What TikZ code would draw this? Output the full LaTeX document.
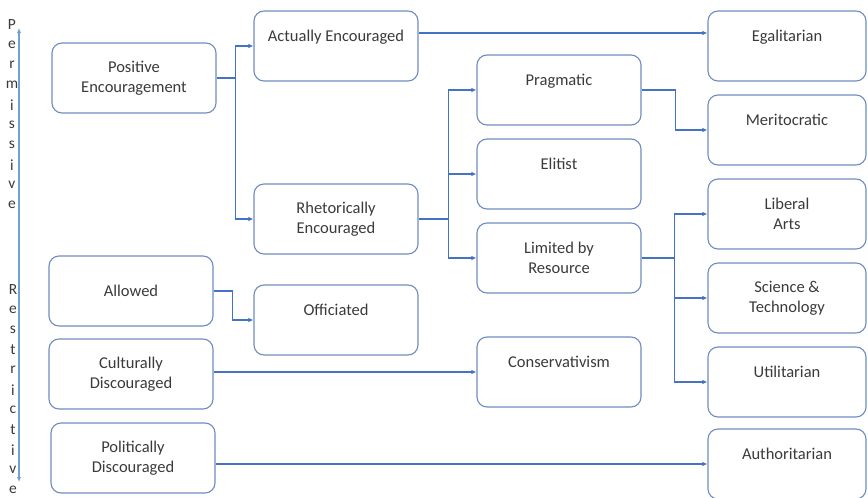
\documentclass[tikz,border=0pt]{standalone}
\usepackage{fontspec}
\setmainfont{Carlito}
\usetikzlibrary{arrows.meta}
\definecolor{boxline}{HTML}{6F8CBF}
\definecolor{linkblue}{HTML}{4472C4}
\definecolor{axisblue}{HTML}{6FA3D8}
\definecolor{txt}{HTML}{3A3A3A}

\begin{document}
\begin{tikzpicture}[x=1pt,y=-1pt,
  box/.style={draw=boxline,line width=1.1pt,rounded corners=10pt,align=center,
    minimum width=164pt,minimum height=70pt,text=txt,
    font=\fontsize{16.5}{20}\selectfont},
  rbox/.style={box,minimum width=158pt},
  link/.style={draw=linkblue,line width=1.4pt,-{Latex[length=5pt,width=4.5pt]}},
  letter/.style={text=txt,font=\fontsize{15.5}{18}\selectfont,inner sep=0pt}]

\useasboundingbox (0,0) rectangle (868,498);

% axis
\coordinate (top) at (19,28);
\coordinate (bot) at (19,482);
\draw[axisblue,line width=1.5pt,{Latex[length=5pt,width=4.5pt]}-{Latex[length=5pt,width=4.5pt]}] (top) -- (bot);
\foreach \ch [count=\i] in {P,e,r,m,i,s,s,i,v,e}
  \node[letter] (p\i) at (12,25+20*\i-20) {\ch};
\foreach \ch [count=\i] in {R,e,s,t,r,i,c,t,i,v,e}
  \node[letter] (r\i) at (13,290+20*\i-20) {\ch};

% left column
\node[box] (pos) at (134,78) {Positive\\Encouragement};
\node[box] (allow) at (131,291) {Allowed};
\node[box] (cult) at (131,374) {Culturally\\Discouraged};
\node[box] (polit) at (133,458) {Politically\\Discouraged};

% second column
\node[box] (act) at (336,46) {Actually Encouraged\\\mbox{}};
\node[box] (rhet) at (336,219) {Rhetorically\\Encouraged};
\node[box] (offic) at (336,320) {Officiated\\\mbox{}};

% third column
\node[box] (prag) at (559,90) {Pragmatic\\\mbox{}};
\node[box] (elit) at (559,174) {Elitist\\\mbox{}};
\node[box] (lim) at (559,258) {Limited by\\Resource};
\node[box] (cons) at (559,372) {Conservativism\\\mbox{}};

% right column
\node[rbox] (egal) at (787,46) {Egalitarian\\\mbox{}};
\node[rbox] (merit) at (787,130) {Meritocratic\\\mbox{}};
\node[rbox] (lib) at (787,214) {Liberal\\Arts};
\node[rbox] (sci) at (787,298) {Science \&\\Technology};
\node[rbox] (util) at (787,382) {Utilitarian\\\mbox{}};
\node[rbox] (auth) at (787,464) {Authoritarian\\\mbox{}};

% connectors
\draw[link] (pos.east) -- ++(19,0) |- (act.west);
\draw[link] (pos.east) -- ++(19,0) |- (rhet.west);
\draw[link] ([yshift=13pt]act.east) -- ([yshift=13pt]egal.west);
\draw[link] (rhet.east) -- ++(30,0) |- (prag.west);
\draw[link] (rhet.east) -- ++(30,0) |- (elit.west);
\draw[link] (rhet.east) -- ++(30,0) |- (lim.west);
\draw[link] (prag.east) -- ++(34,0) |- (merit.west);
\draw[link] (lim.east) -- ++(33,0) |- (lib.west);
\draw[link] (lim.east) -- ++(33,0) |- (sci.west);
\draw[link] (lim.east) -- ++(33,0) |- (util.west);
\draw[link] (allow.east) -- ++(19,0) |- (offic.west);
\draw[link] (cult.east |- cons.west) -- (cons.west);
\draw[link] (polit.east |- auth.west) -- (auth.west);
\end{tikzpicture}
\end{document}
